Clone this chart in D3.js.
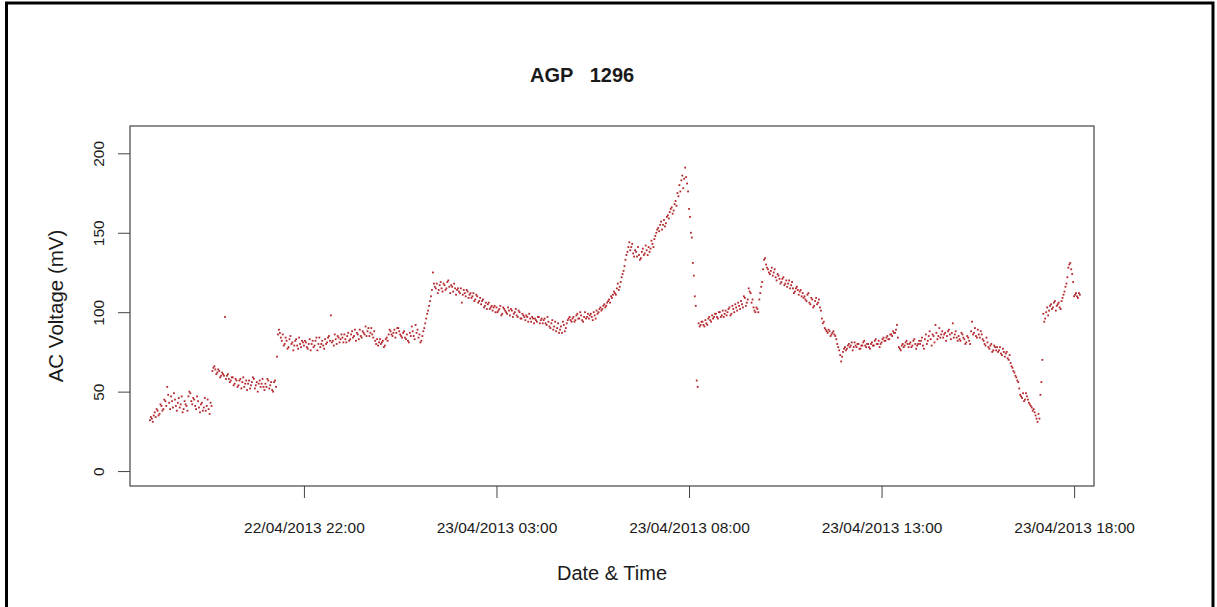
<!DOCTYPE html>
<html>
<head>
<meta charset="utf-8">
<script src="https://cdn.jsdelivr.net/npm/d3@7"></script>
<style>
  body { margin: 0; background: #fff; }
  svg text { font-family: "Liberation Sans", Arial, sans-serif; fill: #1a1a1a; }
</style>
</head>
<body>
<div id="chart"></div>
<script>
// readings every 3 minutes from 22/04/2013 18:00, plus the readings in between (offset 1.5 min)
const startTime = new Date(2013, 3, 22, 18, 0);
const stepMinutes = 3;
const halfOffset = 1.5;

// 18:00 - 23:59
const voltsEvening = [
  32,33,35,34,38,36,41,39,44,53,43,47,40,45,38,46,42,37,44,41,
  47,49,42,45,39,44,37,43,40,38,45,36,41,65,64,62,63,60,61,97,
  60,58,57,59,55,57,54,58,56,53,57,55,52,56,58,54,50,57,55,53,
  55,58,52,56,50,57,72,89,84,86,80,82,78,85,81,79,83,77,80,82,
  79,81,77,83,80,78,82,76,84,80,79,83,81,85,98,82,86,80,84,83,
  84,86,81,87,83,88,85,82,86,89,84,87,91,88,85,90,84,82,83,81
];
const voltsEveningHalf = [
  34,31,37,39,35,42,38,45,41,48,39,44,49,41,43,40,47,39,42,38,
  50,44,46,41,47,40,42,38,46,41,39,43,63,66,61,64,59,62,60,58,
  61,56,59,54,58,53,57,52,59,55,51,57,54,59,52,56,55,53,58,51,
  53,57,54,51,56,53,86,87,82,79,84,77,83,80,76,82,79,84,78,81,
  82,78,80,76,82,79,84,80,78,82,77,80,84,82,81,79,83,85,81,86,
  81,83,85,82,86,84,89,87,83,85,88,86,85,90,87,86,88,80,79,83
];
// 00:00 - 05:59
const voltsNight = [
  80,82,79,84,86,88,85,89,87,90,86,84,88,83,82,87,91,85,92,89,
  86,82,88,93,99,104,110,125,116,118,114,119,113,117,115,120,112,116,118,111,
  115,112,106,114,110,113,111,109,112,108,110,107,105,108,104,102,106,103,101,104,
  103,101,104,99,102,100,103,98,101,99,102,97,100,96,98,95,97,99,94,96,
  96,94,97,95,93,96,92,94,90,95,91,88,93,89,87,92,90,95,97,94,
  97,95,99,96,98,94,100,97,96,99,95,98,101,100,103,102,105,104,107,106
];
const voltsNightHalf = [
  81,78,83,82,89,86,87,84,90,88,85,87,84,86,81,85,88,83,87,84,
  81,85,90,96,101,107,114,118,115,112,117,115,118,114,119,116,117,113,115,114,
  113,115,111,112,114,109,112,110,107,111,106,109,107,103,106,105,102,104,103,100,
  100,102,98,103,101,99,101,102,97,100,98,101,96,99,97,98,94,96,97,93,
  95,97,93,96,95,93,97,91,93,89,94,90,87,91,94,88,93,96,95,96,
  94,98,96,100,95,97,96,99,98,97,100,96,99,102,101,104,103,106,108,110
];
// 06:00 - 11:59
const voltsMorning = [
  109,113,111,118,116,122,126,133,138,144,141,137,139,135,136,134,140,137,139,141,
  140,143,146,150,153,155,152,158,156,161,163,166,164,170,175,180,183,178,191,181,
  165,150,131,110,57,93,92,94,91,93,96,95,98,97,99,96,100,98,97,101,
  100,103,99,102,105,101,104,107,103,109,106,115,112,108,101,103,100,112,119,133,
  130,127,124,128,125,122,124,121,119,122,118,116,120,117,115,113,116,111,114,112,
  110,107,112,105,108,104,109,106,103,96,94,89,87,88,86,88,85,80,76,69
];
const voltsMorningHalf = [
  111,112,115,114,119,124,129,136,141,139,143,135,138,141,133,138,136,142,136,138,
  145,141,148,152,151,157,155,154,160,159,165,162,168,167,173,176,186,184,185,176,
  160,147,123,104,53,91,94,92,95,92,97,94,96,99,97,100,97,101,99,98,
  102,98,104,100,103,106,102,105,110,104,108,113,106,103,100,102,108,116,127,134,
  128,125,126,123,127,120,123,118,121,117,120,118,115,119,112,115,114,113,110,109,
  108,111,106,109,103,107,105,108,101,93,90,88,89,85,87,86,83,78,73,72
];
// 12:00 - 18:09
const voltsAfternoon = [
  75,78,77,80,79,76,81,78,80,77,79,82,78,80,77,81,79,83,80,78,
  81,84,82,85,83,86,88,87,92,78,76,80,79,82,78,81,79,83,77,80,
  80,84,77,86,82,88,79,85,92,83,90,86,84,87,85,89,83,93,86,84,
  85,82,86,83,81,84,80,94,87,85,89,84,86,82,79,81,77,80,76,78,
  78,76,74,77,72,75,70,68,65,62,59,56,48,46,44,49,45,42,40,39,
  35,31,33,56,99,96,103,101,105,103,107,104,106,102,109,113,118,128,131,124,
  110,112,109,111
];
const voltsAfternoonHalf = [
  77,76,79,78,81,78,79,80,77,79,81,79,80,78,80,79,82,80,82,80,
  83,82,84,83,86,85,87,89,84,77,79,78,81,80,80,78,82,80,79,82,
  82,79,83,80,85,83,86,81,87,85,84,88,86,82,88,86,87,84,88,82,
  83,87,84,80,85,82,88,86,90,84,86,88,83,80,84,78,79,75,79,76,
  75,78,73,75,74,71,73,66,63,60,57,52,47,49,45,47,43,41,38,37,
  33,36,48,70,94,100,98,104,102,106,101,105,103,107,111,116,122,130,127,119,
  111,110,112
];

const xTickTimes = [
  new Date(2013, 3, 22, 22, 0),
  new Date(2013, 3, 23, 3, 0),
  new Date(2013, 3, 23, 8, 0),
  new Date(2013, 3, 23, 13, 0),
  new Date(2013, 3, 23, 18, 0)
];
const xDomain = [new Date(2013, 3, 22, 17, 29), new Date(2013, 3, 23, 18, 31)];
const yTicks = [0, 50, 100, 150, 200];
const yDomain = [-9.4, 217.2];

const titleText = "AGP   1296";
const xTitle = "Date & Time";
const yTitle = "AC Voltage (mV)";

class ScatterChart {
  constructor(_config, _data, _dataHalf) {
    this.config = {
      parentElement: _config.parentElement,
      containerWidth: _config.containerWidth || 1217,
      containerHeight: _config.containerHeight || 607,
      margin: { top: 126, right: 123, bottom: 121, left: 130 },
    };
    this.data = _data;
    this.dataHalf = _dataHalf;
    this.initVis();
  }

  initVis() {
    let vis = this;

    vis.config.width =
      vis.config.containerWidth - vis.config.margin.left - vis.config.margin.right;
    vis.config.height =
      vis.config.containerHeight - vis.config.margin.top - vis.config.margin.bottom;

    vis.xScale = d3.scaleTime().domain(xDomain).range([0, vis.config.width]);
    vis.yScale = d3.scaleLinear().domain(yDomain).range([vis.config.height, 0]);

    vis.svg = d3
      .select(vis.config.parentElement)
      .append("svg")
      .attr("width", vis.config.containerWidth)
      .attr("height", vis.config.containerHeight);

    // outer frame of the figure
    vis.svg
      .append("rect")
      .attr("x", 6.5)
      .attr("y", 3)
      .attr("width", 1206.5)
      .attr("height", 610)
      .attr("fill", "none")
      .attr("stroke", "#000")
      .attr("stroke-width", 3);

    vis.chart = vis.svg
      .append("g")
      .attr("transform", `translate(${vis.config.margin.left},${vis.config.margin.top})`);

    vis.xAxisG = vis.chart
      .append("g")
      .attr("transform", `translate(0,${vis.config.height})`);
    vis.yAxisG = vis.chart.append("g");

    vis.svg
      .append("text")
      .attr("x", 530)
      .attr("y", 82)
      .attr("xml:space", "preserve")
      .style("white-space", "pre")
      .style("font-size", "20px")
      .style("font-weight", "bold")
      .text(titleText);

    vis.svg
      .append("text")
      .attr("x", vis.config.margin.left + vis.config.width / 2)
      .attr("y", 580)
      .attr("text-anchor", "middle")
      .style("font-size", "20px")
      .text(xTitle);

    vis.svg
      .append("text")
      .attr("transform", `translate(63,${vis.config.margin.top + vis.config.height / 2}) rotate(-90)`)
      .attr("text-anchor", "middle")
      .style("font-size", "20.5px")
      .text(yTitle);

    vis.updateVis();
  }

  updateVis() {
    let vis = this;
    const toPoint = (offset) => (v, i) => ({
      time: new Date(startTime.getTime() + (i * stepMinutes + offset) * 60000),
      value: v,
    });
    vis.points = vis.data.map(toPoint(0)).concat(vis.dataHalf.map(toPoint(halfOffset)));
    vis.renderVis();
  }

  renderVis() {
    let vis = this;

    const xAxis = d3
      .axisBottom(vis.xScale)
      .tickValues(xTickTimes)
      .tickFormat(d3.timeFormat("%d/%m/%Y %H:%M"))
      .tickSize(12)
      .tickPadding(24);
    vis.xAxisG.call(xAxis);
    vis.xAxisG.select(".domain").remove();
    vis.xAxisG.selectAll("line").attr("stroke", "#444");
    vis.xAxisG.selectAll("text").style("font-size", "15.5px").attr("fill", "#1a1a1a");

    const yAxis = d3.axisLeft(vis.yScale).tickValues(yTicks).tickSize(12);
    vis.yAxisG.call(yAxis);
    vis.yAxisG.select(".domain").remove();
    vis.yAxisG.selectAll("line").attr("stroke", "#444");
    vis.yAxisG
      .selectAll("text")
      .attr("x", 0)
      .attr("y", -26)
      .attr("dy", 0)
      .attr("transform", "rotate(-90)")
      .attr("text-anchor", "middle")
      .attr("fill", "#1a1a1a")
      .style("font-size", "15.5px");

    vis.chart
      .append("g")
      .selectAll("rect")
      .data(vis.points)
      .join("rect")
      .attr("x", (d) => vis.xScale(d.time) - 0.9)
      .attr("y", (d) => vis.yScale(d.value) - 0.9)
      .attr("width", 1.8)
      .attr("height", 1.8)
      .attr("fill", "#b3262b");

    // plot box
    vis.chart
      .append("rect")
      .attr("x", 0)
      .attr("y", 0)
      .attr("width", vis.config.width)
      .attr("height", vis.config.height)
      .attr("fill", "none")
      .attr("stroke", "#444")
      .attr("stroke-width", 1.2);
  }
}

const allVolts = voltsEvening.concat(voltsNight, voltsMorning, voltsAfternoon);
const allVoltsHalf = voltsEveningHalf.concat(voltsNightHalf, voltsMorningHalf, voltsAfternoonHalf);
new ScatterChart({ parentElement: "#chart" }, allVolts, allVoltsHalf);
</script>
</body>
</html>
